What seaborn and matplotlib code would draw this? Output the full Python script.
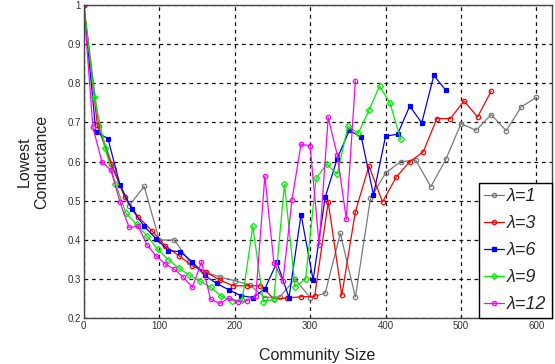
import matplotlib
matplotlib.use("Agg")
import matplotlib.pyplot as plt
import seaborn as sns
import numpy as np
import pandas as pd
from matplotlib.ticker import FormatStrFormatter, MultipleLocator

labels = ["λ=1", "λ=3", "λ=6", "λ=9", "λ=12"]
steps = [20, 18, 16, 14, 12]

lam1 = [1.0, 0.69, 0.58, 0.487, 0.537, 0.40, 0.40, 0.345, 0.318, 0.306, 0.296,
        0.285, 0.253, 0.255, 0.30, 0.253, 0.264, 0.417, 0.254, 0.506, 0.571,
        0.60, 0.604, 0.536, 0.606, 0.697, 0.68, 0.72, 0.679, 0.74, 0.764]
lam3 = [1.0, 0.693, 0.595, 0.51, 0.459, 0.424, 0.385, 0.36, 0.334, 0.318, 0.298,
        0.283, 0.283, 0.283, 0.25, 0.252, 0.255, 0.256, 0.497, 0.259, 0.472,
        0.589, 0.497, 0.56, 0.60, 0.625, 0.71, 0.71, 0.755, 0.714, 0.78]
lam6 = [1.0, 0.676, 0.659, 0.54, 0.478, 0.435, 0.403, 0.373, 0.37, 0.344, 0.31,
        0.289, 0.273, 0.258, 0.253, 0.275, 0.343, 0.253, 0.465, 0.298, 0.509,
        0.608, 0.68, 0.662, 0.515, 0.665, 0.67, 0.742, 0.699, 0.82, 0.782]
lam9 = [1.0, 0.765, 0.635, 0.544, 0.468, 0.44, 0.41, 0.376, 0.35, 0.328, 0.31,
        0.295, 0.28, 0.257, 0.245, 0.247, 0.435, 0.242, 0.249, 0.543, 0.281,
        0.30, 0.557, 0.594, 0.568, 0.69, 0.673, 0.731, 0.793, 0.749, 0.657]
lam12 = [1.0, 0.688, 0.60, 0.578, 0.497, 0.432, 0.435, 0.387, 0.359, 0.339, 0.325,
         0.305, 0.279, 0.344, 0.249, 0.238, 0.251, 0.242, 0.245, 0.257, 0.563,
         0.342, 0.295, 0.503, 0.645, 0.64, 0.387, 0.713, 0.617, 0.453, 0.806]

series = [lam1, lam3, lam6, lam9, lam12]
colors = ["#7a7a7a", "#ff0000", "#0000ff", "#00ee00", "#ff00ff"]
markers = ["o", "o", "s", "D", "o"]
mfc = ["none", "none", None, "none", "none"]

frames = []
for lab, st, ys in zip(labels, steps, series):
    xs = [i * st for i in range(len(ys))]
    frames.append(pd.DataFrame({"size": xs, "cond": ys, "lam": lab}))
df = pd.concat(frames, ignore_index=True)

sns.set_style("white")
plt.rcParams['font.family'] = ['Liberation Sans', 'DejaVu Sans']

fig = plt.figure(figsize=(5.55, 3.64), dpi=100)
ax = fig.add_axes([0.151, 0.1255, 0.8427, 0.8608])

handles = []
for lab, col, mk, fc in zip(labels, colors, markers, mfc):
    sub = df[df["lam"] == lab]
    face = col if fc is None else "none"
    sns.lineplot(data=sub, x="size", y="cond", ax=ax, sort=False,
                 estimator=None, color=col, marker=mk,
                 markersize=3.2 if mk != "s" else 3.0,
                 markeredgewidth=0.9, linewidth=0.9,
                 markerfacecolor=face, markeredgecolor=col)
    h, = ax.plot([], [], color=col, marker=mk, markersize=3, linewidth=0.9,
                 markerfacecolor=face, markeredgecolor=col)
    handles.append(h)

ax.set_xlim(0, 620)
ax.set_ylim(0.2, 1.0)
ax.xaxis.set_major_locator(MultipleLocator(100))
ax.yaxis.set_major_locator(MultipleLocator(0.1))
ax.yaxis.set_major_formatter(FormatStrFormatter('%g'))
ax.grid(True, color="#111111", linestyle=(0, (3, 3)), linewidth=0.9)
ax.set_axisbelow(True)
for sp in ax.spines.values():
    sp.set_color("#444444")
    sp.set_linewidth(1.0)
ax.tick_params(length=0, labelsize=7, labelcolor="#333333", pad=2)

ax.set_xlabel("Community Size", fontsize=11.5, color="#222222", labelpad=12)
ax.set_ylabel("Lowest\nConductance", fontsize=11.5, color="#222222", labelpad=13)

leg = ax.legend(handles, labels, loc="lower right", borderaxespad=0,
                fancybox=False, framealpha=1, edgecolor="black",
                prop={"style": "italic", "size": 13,
                      "family": ["Liberation Sans", "DejaVu Sans"]},
                handlelength=1.1, handletextpad=0.15, labelspacing=0.55,
                borderpad=0.3)
leg.get_frame().set_linewidth(1.0)

fig.savefig("out.png", dpi=100)
